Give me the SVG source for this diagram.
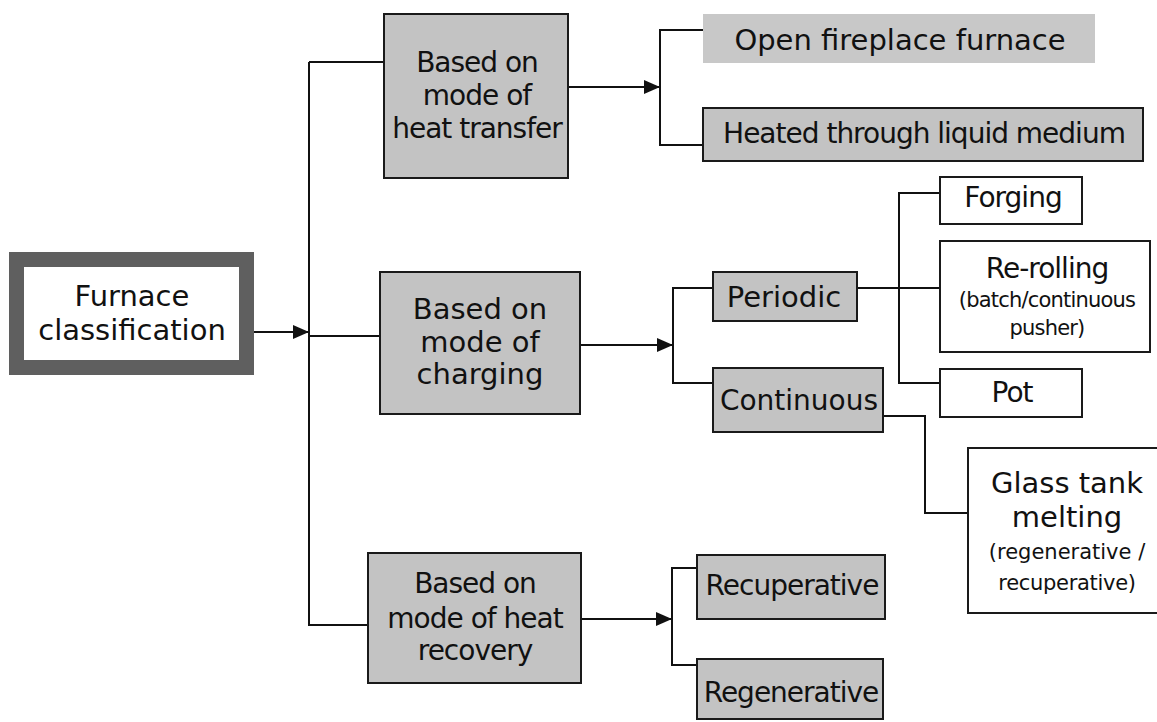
<svg xmlns="http://www.w3.org/2000/svg" width="1157" height="722" viewBox="0 0 1157 722">
<style>
  .g { fill: #c3c3c3; stroke: #1a1a1a; stroke-width: 2; }
  .w { fill: #ffffff; stroke: #1a1a1a; stroke-width: 2; }
  .ln { fill: none; stroke: #111111; stroke-width: 2; }
  text { font-family: "DejaVu Sans", Verdana, sans-serif; fill: #111111; text-anchor: middle; }
  .t29 { font-size: 29px; }
  .t28 { font-size: 28px; letter-spacing: -1px; }
  .t28n { font-size: 28px; }
  .s21 { font-size: 21px; }
</style>
<defs>
  <marker id="arr" viewBox="0 0 16 14" refX="16" refY="7" markerWidth="16" markerHeight="14" markerUnits="userSpaceOnUse" orient="auto">
    <path d="M0,0 L16,7 L0,14 z" fill="#111111"/>
  </marker>
</defs>
<rect width="1157" height="722" fill="#ffffff"/>

<g id="connectors">
  <line class="ln" x1="254" y1="332" x2="309" y2="332" marker-end="url(#arr)"/>
  <line class="ln" x1="309" y1="62" x2="309" y2="626"/>
  <line class="ln" x1="309" y1="62" x2="384" y2="62"/>
  <line class="ln" x1="309" y1="336" x2="380" y2="336"/>
  <line class="ln" x1="309" y1="625" x2="368" y2="625"/>

  <line class="ln" x1="568" y1="87" x2="660" y2="87" marker-end="url(#arr)"/>
  <polyline class="ln" points="703,30 660,30 660,145 703,145"/>

  <line class="ln" x1="580" y1="345" x2="673" y2="345" marker-end="url(#arr)"/>
  <polyline class="ln" points="713,288 673,288 673,383 713,383"/>

  <line class="ln" x1="857" y1="288" x2="940" y2="288"/>
  <polyline class="ln" points="940,193 899,193 899,383 940,383"/>

  <polyline class="ln" points="883,416 925,416 925,513 968,513"/>

  <line class="ln" x1="581" y1="619" x2="672" y2="619" marker-end="url(#arr)"/>
  <polyline class="ln" points="697,568 672,568 672,665 697,665"/>
</g>

<g id="furnace">
  <rect x="16.5" y="259.5" width="230" height="108" fill="#ffffff" stroke="#5f5f5f" stroke-width="15"/>
  <text class="t29" x="132" y="306">Furnace</text>
  <text class="t29" x="132" y="340">classification</text>
</g>

<g id="heat-transfer">
  <rect class="g" x="384" y="14" width="184" height="164"/>
  <text class="t28" x="477" y="72">Based on</text>
  <text class="t28" x="477" y="105">mode of</text>
  <text class="t28" x="477" y="138">heat transfer</text>
</g>

<g id="open-fireplace">
  <rect x="703" y="14" width="392" height="49" fill="#c8c8c8"/>
  <text class="t29" x="900" y="50">Open fireplace furnace</text>
</g>

<g id="liquid-medium">
  <rect class="g" x="703" y="108" width="440" height="53"/>
  <text class="t28" x="924" y="143">Heated through liquid medium</text>
</g>

<g id="charging">
  <rect class="g" x="380" y="272" width="200" height="142"/>
  <text class="t29" x="480" y="319">Based on</text>
  <text class="t29" x="480" y="352">mode of</text>
  <text class="t29" x="480" y="384">charging</text>
</g>

<g id="periodic">
  <rect class="g" x="713" y="272" width="144" height="49"/>
  <text class="t29" x="784" y="307">Periodic</text>
</g>

<g id="continuous">
  <rect class="g" x="713" y="368" width="170" height="64"/>
  <text class="t28n" x="799" y="410">Continuous</text>
</g>

<g id="forging">
  <rect class="w" x="940" y="177" width="142" height="47"/>
  <text class="t28" x="1013" y="207">Forging</text>
</g>

<g id="re-rolling">
  <rect class="w" x="940" y="241" width="210" height="111"/>
  <text class="t28" x="1047" y="278">Re-rolling</text>
  <text class="s21" x="1047" y="307" letter-spacing="-0.8">(batch/continuous</text>
  <text class="s21" x="1047" y="335" letter-spacing="-0.8">pusher)</text>
</g>

<g id="pot">
  <rect class="w" x="940" y="369" width="142" height="48"/>
  <text class="t28" x="1012" y="402">Pot</text>
</g>

<g id="glass-tank">
  <rect class="w" x="968" y="448" width="200" height="165"/>
  <text class="t29" x="1067" y="493">Glass tank</text>
  <text class="t29" x="1067" y="527">melting</text>
  <text class="s21" x="1067" y="559">(regenerative /</text>
  <text class="s21" x="1067" y="590" letter-spacing="-0.3">recuperative)</text>
</g>

<g id="heat-recovery">
  <rect class="g" x="368" y="553" width="213" height="130"/>
  <text class="t28" x="475" y="593">Based on</text>
  <text class="t28" x="475" y="628">mode of heat</text>
  <text class="t28" x="475" y="660">recovery</text>
</g>

<g id="recuperative">
  <rect class="g" x="697" y="555" width="188" height="64"/>
  <text class="t28" x="792" y="595" letter-spacing="-1.5">Recuperative</text>
</g>

<g id="regenerative">
  <rect class="g" x="697" y="659" width="186" height="60"/>
  <text class="t28" x="791" y="702" letter-spacing="-1.3">Regenerative</text>
</g>
</svg>
